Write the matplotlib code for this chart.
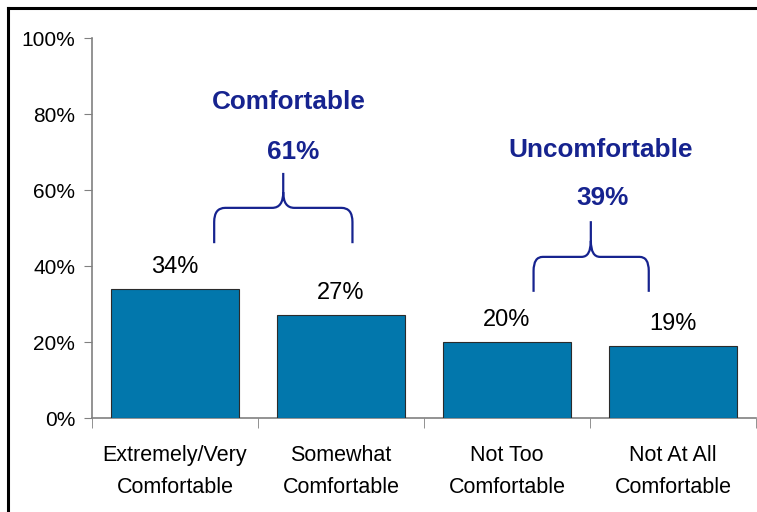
import numpy as np
import matplotlib.pyplot as plt
from matplotlib.path import Path
from matplotlib.patches import PathPatch
from matplotlib.lines import Line2D

categories = ['Extremely/Very\nComfortable', 'Somewhat\nComfortable',
              'Not Too\nComfortable', 'Not At All\nComfortable']
values = [34, 27, 20, 19]
groups = ['Comfortable', 'Uncomfortable']
group_totals = [61, 39]
yticks = [0, 20, 40, 60, 80, 100]

BAR = '#0277ac'
NAVY = '#16238f'
GRAY = '#808080'

plt.rcParams['font.family'] = ['Liberation Sans', 'DejaVu Sans']

fig = plt.figure(figsize=(7.57, 5.12), dpi=100)
ax = fig.add_axes([92 / 757, 94 / 512, 664 / 757, 380 / 512])

x = np.arange(len(values))
ax.bar(x, values, width=0.77, color=BAR, edgecolor='#2b2b2b', linewidth=0.8, zorder=3)
for xi, v in zip(x, values):
    ax.annotate(f'{v}%', (xi, v), xytext=(0, 8), textcoords='offset points',
                ha='center', va='bottom', fontsize=17)

ax.set_xlim(-0.5, len(values) - 0.5)
ax.set_ylim(0, 100)
ax.set_yticks(yticks)
ax.set_yticklabels([f'{t}%' for t in yticks], fontsize=15)
ax.set_xticks(x)
ax.set_xticklabels(categories, fontsize=15.5, linespacing=1.66)
ax.set_xticks(np.arange(len(values) + 1) - 0.5, minor=True)
ax.tick_params(axis='x', which='major', length=0, pad=19.5)
ax.tick_params(axis='x', which='minor', length=7, color=GRAY, direction='out')
ax.tick_params(axis='y', length=6, color=GRAY, pad=6)
for s in ['top', 'right']:
    ax.spines[s].set_visible(False)
for s in ['left', 'bottom']:
    ax.spines[s].set_color(GRAY)
    ax.spines[s].set_linewidth(1.2)


def brace(ax, x0, x1, xc, ybot, ymid, ytip):
    r = 0.08 * (x1 - x0)
    h = 0.4 * (ymid - ybot)
    t = 0.45 * (ytip - ymid)
    verts = [(x0, ybot), (x0, ymid - h), (x0, ymid), (x0 + r, ymid),
             (xc - r, ymid), (xc, ymid), (xc, ymid + t), (xc, ytip),
             (xc, ymid + t), (xc, ymid), (xc + r, ymid),
             (x1 - r, ymid), (x1, ymid), (x1, ymid - h), (x1, ybot)]
    codes = [Path.MOVETO, Path.LINETO, Path.CURVE3, Path.CURVE3,
             Path.LINETO, Path.CURVE3, Path.CURVE3, Path.LINETO,
             Path.MOVETO, Path.CURVE3, Path.CURVE3,
             Path.LINETO, Path.CURVE3, Path.CURVE3, Path.LINETO]
    ax.add_patch(PathPatch(Path(verts, codes), fill=False, edgecolor=NAVY,
                           linewidth=1.6, clip_on=False, zorder=4))


# brace spans and label spots (data units)
braces = [(0.236, 1.069, 0.652, 46, 55.3, 64.5),
          (2.16, 2.854, 2.505, 33.2, 42.4, 51.8)]
title_pos = [(0.683, 83.2), (2.565, 70.5)]
total_pos = [(0.71, 70.0), (2.577, 57.9)]

for b, g, tot, tp, pp in zip(braces, groups, group_totals, title_pos, total_pos):
    brace(ax, *b)
    ax.text(tp[0], tp[1], g, ha='center', va='center', fontsize=18.8,
            fontweight='bold', color=NAVY)
    ax.text(pp[0], pp[1], f'{tot}%', ha='center', va='center', fontsize=18.8,
            fontweight='bold', color=NAVY)

# outer frame, left and top edges
fig.add_artist(Line2D([8 / 757, 8 / 757], [0, 1 - 8 / 512], color='black', lw=2.2))
fig.add_artist(Line2D([8 / 757, 1], [1 - 8 / 512, 1 - 8 / 512], color='black', lw=2.2))

fig.savefig('out.png', dpi=100)
